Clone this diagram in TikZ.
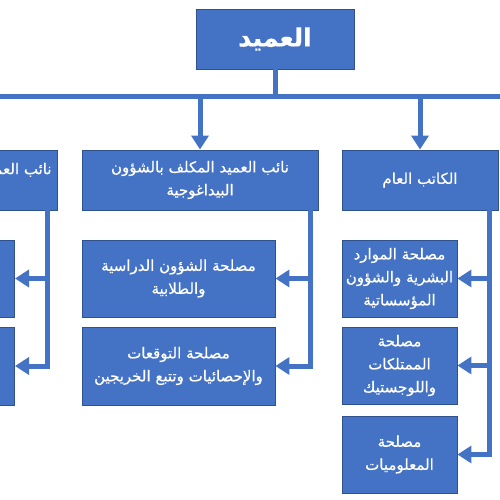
\documentclass[tikz,border=0pt]{standalone}
\usepackage{fontspec}
\newfontfamily\arabicfont[Script=Arabic,FakeBold=0.6]{DejaVu Sans}
\TeXXeTstate=1
\usetikzlibrary{arrows.meta}
\definecolor{boxblue}{HTML}{4472C4}
\definecolor{boxedge}{HTML}{2F528F}
\tikzset{
  box/.style={draw=boxedge, line width=0.9pt, fill=boxblue, text=white, inner sep=0pt,
    align=center, font=\arabicfont\fontsize{15}{23}\selectfont},
  conn/.style={draw=boxblue, line width=5pt},
  arr/.style={conn, -{Triangle[length=14pt,width=17pt]}},
}
\begin{document}
\begin{tikzpicture}[x=1pt,y=-1pt]
\useasboundingbox (0,0) rectangle (500,500);
\clip (0,0) rectangle (500,500);
\fill[white] (0,0) rectangle (500,500);
% nodes
\node[box, minimum width=158pt, minimum height=60pt, font=\arabicfont\bfseries\fontsize{25}{28}\selectfont] (top) at (275,39) {\beginR العميد\endR};
\node[box, minimum height=60pt, inner xsep=6pt, anchor=east] (LT) at (58,180) {\beginR نائب العميد المكلف بالبحث العلمي\endR\\\mbox{}};
\node[box, minimum width=236pt, minimum height=60pt] (MT) at (200,180) {\beginR نائب العميد المكلف بالشؤون\endR\\\beginR البيداغوجية\endR};
\node[box, minimum width=156pt, minimum height=60pt] (RT) at (420,180) {\beginR الكاتب العام\endR};
\node[box, minimum width=193pt, minimum height=77pt, anchor=east] (LA) at (15,278.5) {};
\node[box, minimum width=193pt, minimum height=78pt, anchor=east] (LB) at (15,366) {};
\node[box, minimum width=193pt, minimum height=77pt] (MA) at (178.5,278.5) {\beginR مصلحة الشؤون الدراسية\endR\\\beginR والطلابية\endR};
\node[box, minimum width=193pt, minimum height=78pt] (MB) at (178.5,366) {\beginR مصلحة التوقعات\endR\\\beginR والإحصائيات وتتبع الخريجين\endR};
\node[box, minimum width=115pt, minimum height=77pt] (RA) at (399.5,278.5) {\beginR مصلحة الموارد\endR\\\beginR البشرية والشؤون\endR\\\beginR المؤسساتية\endR};
\node[box, minimum width=115pt, minimum height=77pt] (RB) at (399.5,365.5) {\beginR مصلحة\endR\\\beginR الممتلكات\endR\\\beginR واللوجستيك\endR};
\node[box, minimum width=115pt, minimum height=77pt] (RC) at (399.5,454.5) {\beginR مصلحة\endR\\\beginR المعلوميات\endR};
% connectors
\coordinate (busL) at (0,97);
\coordinate (busR) at (500,97);
\coordinate (sL) at (47,0);
\coordinate (sM) at (310,0);
\coordinate (sR) at (489,0);
\draw[conn] (top.south) -- (top.south |- busL);
\draw[conn] (busL) -- (busR);
\draw[arr] (MT.north |- busL) -- (MT.north);
\draw[arr] (RT.north |- busL) -- (RT.north);
\draw[arr] (sL |- LT.south) |- (LB.east);
\draw[arr] (sL |- LA.east) -- (LA.east);
\draw[arr] (sM |- MT.south) |- (MB.east);
\draw[arr] (sM |- MA.east) -- (MA.east);
\draw[arr] (sR |- RT.south) |- (RC.east);
\draw[arr] (sR |- RA.east) -- (RA.east);
\draw[arr] (sR |- RB.east) -- (RB.east);
\end{tikzpicture}
\end{document}
